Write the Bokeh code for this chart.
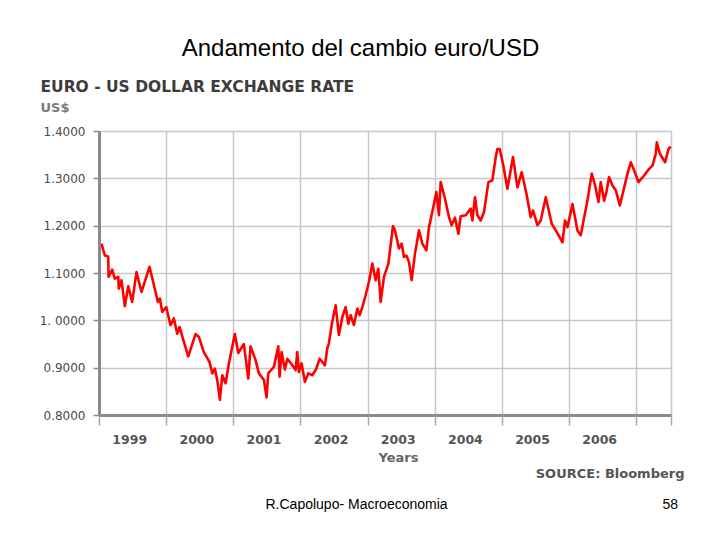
from bokeh.plotting import figure
from bokeh.layouts import column
from bokeh.models import Range1d, FixedTicker, CustomJSTickFormatter, Label
from bokeh.embed import file_html
from bokeh.resources import INLINE

# ---- data ----
dates = [
    1999.030, 1999.079, 1999.130, 1999.135, 1999.189, 1999.228, 1999.279, 1999.288, 1999.328, 1999.377,
    1999.428, 1999.487, 1999.551, 1999.626, 1999.745, 1999.835, 1999.869, 1999.899, 1999.934, 1999.994,
    2000.058, 2000.107, 2000.158, 2000.192, 2000.256, 2000.322, 2000.431, 2000.480, 2000.554, 2000.639,
    2000.680, 2000.718, 2000.754, 2000.793, 2000.829, 2000.878, 2000.927,
    2001.016, 2001.067, 2001.150, 2001.216, 2001.250, 2001.325, 2001.374, 2001.449, 2001.489, 2001.514,
    2001.598, 2001.663, 2001.683, 2001.712, 2001.762, 2001.797, 2001.872, 2001.921, 2001.946, 2001.970,
    2002.010, 2002.060, 2002.110, 2002.170, 2002.230, 2002.279, 2002.319, 2002.358, 2002.393, 2002.417,
    2002.458, 2002.517, 2002.566, 2002.617, 2002.666, 2002.706, 2002.741, 2002.790, 2002.841, 2002.875,
    2002.915, 2002.964,
    2003.013, 2003.064, 2003.113, 2003.153, 2003.188, 2003.237, 2003.303, 2003.371, 2003.401, 2003.461,
    2003.501, 2003.535, 2003.571, 2003.610, 2003.650, 2003.699, 2003.759, 2003.809, 2003.869, 2003.908,
    2003.967,
    2004.018, 2004.057, 2004.082, 2004.146, 2004.206, 2004.246, 2004.295, 2004.346, 2004.380, 2004.455,
    2004.529, 2004.554, 2004.593, 2004.629, 2004.678, 2004.727, 2004.793, 2004.852, 2004.902, 2004.927,
    2004.961,
    2005.010, 2005.076, 2005.159, 2005.225, 2005.289, 2005.359, 2005.423, 2005.458, 2005.523, 2005.572,
    2005.647, 2005.736, 2005.796, 2005.896, 2005.934, 2005.970,
    2006.045, 2006.119, 2006.168, 2006.268, 2006.332, 2006.382, 2006.432, 2006.466, 2006.516, 2006.551,
    2006.590, 2006.641, 2006.690, 2006.750, 2006.799, 2006.864, 2006.914, 2006.963,
    2007.028, 2007.112, 2007.186, 2007.237, 2007.286, 2007.301, 2007.346, 2007.425, 2007.475, 2007.510,
]
rates = [
    1.163, 1.138, 1.136, 1.093, 1.108, 1.089, 1.093, 1.068, 1.086, 1.031,
    1.073, 1.040, 1.103, 1.061, 1.114, 1.061, 1.040, 1.047, 1.019, 1.029,
    0.991, 1.005, 0.973, 0.987, 0.956, 0.925, 0.972, 0.966, 0.934, 0.913,
    0.889, 0.899, 0.875, 0.833, 0.885, 0.868, 0.910,
    0.972, 0.932, 0.951, 0.878, 0.946, 0.917, 0.889, 0.875, 0.838, 0.889,
    0.903, 0.946, 0.882, 0.934, 0.897, 0.920, 0.906, 0.896, 0.934, 0.892,
    0.910, 0.871, 0.889, 0.885, 0.899, 0.920, 0.913, 0.906, 0.942, 0.952,
    0.991, 1.033, 0.970, 1.008, 1.029, 0.994, 1.012, 0.991, 1.026, 1.012,
    1.029, 1.054,
    1.082, 1.121, 1.086, 1.110, 1.040, 1.093, 1.121, 1.200, 1.191, 1.153,
    1.163, 1.135, 1.138, 1.124, 1.086, 1.142, 1.191, 1.163, 1.149, 1.198,
    1.237,
    1.272, 1.223, 1.293, 1.258, 1.219, 1.202, 1.218, 1.184, 1.221, 1.223,
    1.237, 1.212, 1.261, 1.223, 1.212, 1.230, 1.293, 1.297, 1.346, 1.363,
    1.363,
    1.332, 1.279, 1.346, 1.282, 1.314, 1.269, 1.219, 1.233, 1.202, 1.212,
    1.261, 1.205, 1.191, 1.166, 1.212, 1.198,
    1.247, 1.191, 1.181, 1.254, 1.311, 1.286, 1.251, 1.293, 1.254, 1.272,
    1.304, 1.286, 1.276, 1.244, 1.272, 1.311, 1.335, 1.318,
    1.293, 1.307, 1.321, 1.328, 1.353, 1.377, 1.353, 1.335, 1.363, 1.368,
]
year_bounds = [1999, 2000, 2001, 2002, 2003, 2004, 2005, 2006, 2007]
year_label_pos = [1999.45, 2000.45, 2001.45, 2002.45, 2003.45, 2004.45, 2005.45, 2006.45]
x_end = 2007.52
y_ticks = [0.8, 0.9, 1.0, 1.1, 1.2, 1.3, 1.4]
y_labels = {0.8: "0.8000", 0.9: "0.9000", 1.0: "1. 0000", 1.1: "1.1000",
            1.2: "1.2000", 1.3: "1.3000", 1.4: "1.4000"}

page_title = "Andamento del cambio euro/USD"
chart_title = "EURO - US DOLLAR EXCHANGE RATE"
unit_label = "US$"
x_label = "Years"
source_label = "SOURCE: Bloomberg"
footer_left = "R.Capolupo- Macroeconomia"
footer_right = "58"

W = 712
HEAD_H = 120
MAIN_H = 330
FOOT_H = 75


def no_frame_align(f):
    if "frame_align" in f.properties():
        f.frame_align = False


def text_panel(h):
    f = figure(width=W, height=h, x_range=Range1d(0, W), y_range=Range1d(0, h),
               output_backend="svg", toolbar_location=None, title=None,
               x_axis_location=None, y_axis_location=None,
               min_border=0, min_border_left=0, min_border_right=0,
               min_border_top=0, min_border_bottom=0)
    f.grid.visible = False
    f.outline_line_color = None
    f.background_fill_color = "white"
    f.border_fill_color = "white"
    no_frame_align(f)
    return f


def add_label(f, x, y, text, font, size, color, style="normal", align="left"):
    f.add_layout(Label(x=x, y=y, text=text, text_font=font, text_font_size=size,
                       text_color=color, text_font_style=style, text_align=align,
                       text_baseline="middle"))


# ---- header ----
head = text_panel(HEAD_H)
add_label(head, 360, 73, page_title, "Liberation Sans", "24px", "#000000", align="center")
add_label(head, 40, 34, chart_title, "DejaVu Sans", "15.5px", "#3c3c3c", style="bold")
add_label(head, 40, 13, unit_label, "DejaVu Sans", "13px", "#7a7a7a", style="bold")

# ---- main chart ----
p = figure(width=W, height=MAIN_H, x_range=Range1d(1999, x_end), y_range=Range1d(0.8, 1.4),
           output_backend="svg", toolbar_location=None, title=None,
           min_border_left=99, min_border_right=41, min_border_top=11, min_border_bottom=35)
no_frame_align(p)
p.background_fill_color = "white"
p.border_fill_color = "white"
p.outline_line_color = "#c8c8c8"
p.outline_line_width = 1.5

p.xgrid.ticker = FixedTicker(ticks=year_bounds)
p.ygrid.ticker = FixedTicker(ticks=y_ticks)
for g in (p.xgrid, p.ygrid):
    g.grid_line_color = "#c8c8c8"
    g.grid_line_width = 1.5

xa = p.xaxis[0]
xa.ticker = FixedTicker(ticks=year_label_pos, minor_ticks=year_bounds + [x_end])
xa.formatter = CustomJSTickFormatter(code="return Math.floor(tick).toString();")
xa.axis_line_color = "#8a8a8a"
xa.axis_line_width = 3
xa.major_tick_line_color = None
xa.major_tick_out = 0
xa.major_tick_in = 0
xa.minor_tick_line_color = "#a8a8a8"
xa.minor_tick_line_width = 1.5
xa.minor_tick_out = 10
xa.minor_tick_in = 0
xa.major_label_standoff = 9
xa.major_label_text_font = "DejaVu Sans"
xa.major_label_text_font_style = "bold"
xa.major_label_text_font_size = "12.5px"
xa.major_label_text_color = "#555555"

ya = p.yaxis[0]
ya.ticker = FixedTicker(ticks=y_ticks)
ya.major_label_overrides = y_labels
ya.axis_line_color = "#8a8a8a"
ya.axis_line_width = 3
ya.major_tick_line_color = "#8a8a8a"
ya.major_tick_line_width = 1.5
ya.major_tick_out = 6
ya.major_tick_in = 0
ya.minor_tick_line_color = None
ya.major_label_standoff = 8
ya.major_label_text_font = "DejaVu Sans"
ya.major_label_text_font_size = "12px"
ya.major_label_text_color = "#4a4a4a"

p.line(dates, rates, line_color="#ff0000", line_width=2.6, line_join="round")

# ---- footer ----
foot = text_panel(FOOT_H)
add_label(foot, 398, 68, x_label, "DejaVu Sans", "13px", "#666666", style="bold", align="center")
add_label(foot, 684, 52, source_label, "DejaVu Sans", "13px", "#555555", style="bold", align="right")
add_label(foot, 265, 22, footer_left, "Liberation Sans", "14px", "#000000")
add_label(foot, 662, 22, footer_right, "Liberation Sans", "14px", "#000000")

layout = column(head, p, foot, spacing=0)
open("out.html", "w").write(file_html(layout, INLINE))
